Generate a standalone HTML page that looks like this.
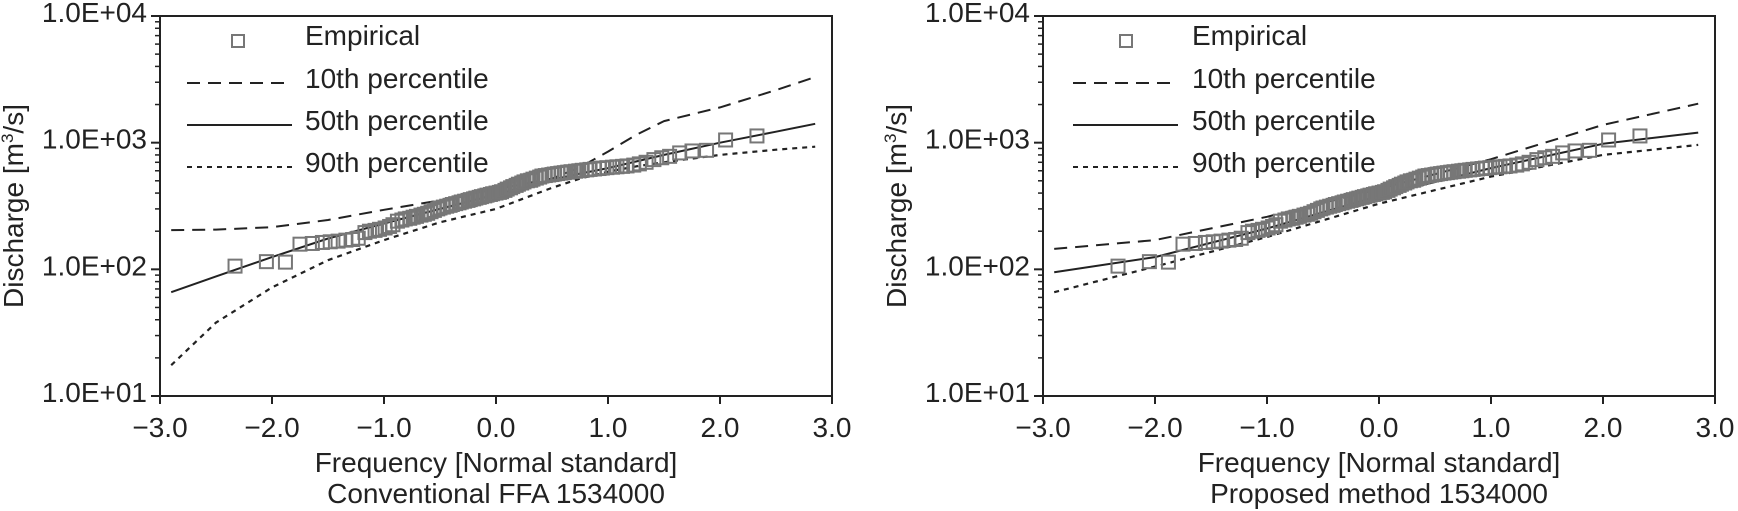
<!DOCTYPE html>
<html><head><meta charset="utf-8"><style>
html,body{margin:0;padding:0;background:#fff;}
svg{display:block;font-family:"Liberation Sans",Arial,sans-serif;}
</style></head><body>
<svg id="fig" width="1738" height="511" viewBox="0 0 1738 511" xmlns="http://www.w3.org/2000/svg"></svg>
<script>
// ---- data ----
const xTicks = [-3, -2, -1, 0, 1, 2, 3];
const xTickLabels = ["\u22123.0", "\u22122.0", "\u22121.0", "0.0", "1.0", "2.0", "3.0"];
const yDecades = [1, 2, 3, 4];
const yTickLabels = ["1.0E+01", "1.0E+02", "1.0E+03", "1.0E+04"];
const zEmp = [-2.33,-2.05,-1.88,-1.75,-1.64,-1.55,-1.48,-1.41,-1.34,-1.28,-1.23,-1.17,-1.13,-1.08,-1.04,-0.99,-0.95,-0.92,-0.88,-0.84,-0.81,-0.77,-0.74,-0.71,-0.67,-0.64,-0.61,-0.58,-0.55,-0.52,-0.50,-0.47,-0.44,-0.41,-0.39,-0.36,-0.33,-0.31,-0.28,-0.25,-0.23,-0.20,-0.18,-0.15,-0.13,-0.10,-0.08,-0.05,-0.03,0.00,0.03,0.05,0.08,0.10,0.13,0.15,0.18,0.20,0.23,0.25,0.28,0.31,0.33,0.36,0.39,0.41,0.44,0.47,0.50,0.52,0.55,0.58,0.61,0.64,0.67,0.71,0.74,0.77,0.81,0.84,0.88,0.92,0.95,0.99,1.04,1.08,1.13,1.17,1.23,1.28,1.34,1.41,1.48,1.55,1.64,1.75,1.88,2.05,2.33];
const qEmp = [106,115,114,158,160,163,165,167,170,172,176,195,200,203,207,212,218,225,240,245,250,253,258,262,268,272,277,285,292,300,305,310,315,320,325,330,335,340,345,350,355,360,365,370,375,380,385,390,395,400,405,410,420,430,440,450,460,470,480,490,500,505,515,525,535,545,550,555,560,565,570,575,580,585,590,595,600,605,610,615,620,625,630,635,640,645,650,655,665,680,700,735,760,780,830,860,870,1050,1130];
// conventional FFA percentiles
const zConv = [-2.9,-2.5,-2,-1.5,-1,-0.5,0,0.5,0.75,1,1.25,1.5,2,2.5,2.85];
const convP10 = [204,206,215,245,295,350,430,520,640,850,1150,1480,1900,2600,3300];
const convP50 = [66,88,125,175,230,300,390,510,570,630,710,800,1000,1220,1410];
const convP90 = [17.5,38,72,118,170,235,300,440,520,590,650,700,800,880,930];
// proposed method percentiles
const zProp = [-2.9,-2,-1,0,1,2,2.85];
const propP10 = [145,170,260,430,740,1380,2030];
const propP50 = [95,125,210,380,630,980,1200];
const propP90 = [66,105,180,330,540,800,960];

const NS = "http://www.w3.org/2000/svg";
const svg = document.getElementById('fig');
function el(tag, attrs, parent) {
  const e = document.createElementNS(NS, tag);
  for (const k in attrs) e.setAttribute(k, attrs[k]);
  (parent || svg).appendChild(e);
  return e;
}
const TOP = 16, BOT = 396;

function drawPanel(id, left, right, zc, p10, p50, p90, title, legLineX, legTextX, legSqX) {
  const g = el('g', {});
  
  
  const xs = z => left + (z + 3) / 6 * (right - left);
  const ys = v => BOT - (Math.log10(v) - 1) / 3 * (BOT - TOP);

  const frame = el('rect', {x: left, y: TOP, width: right - left, height: BOT - TOP, fill: 'none', stroke: '#222', 'stroke-width': 2}, g);
  
  

  xTicks.forEach((t, i) => {
    const x = xs(t);
    const tk = el('line', {x1: x, x2: x, y1: BOT, y2: BOT + 8, stroke: '#222', 'stroke-width': 2}, g);
    
    
    const tx = el('text', {x: x, y: BOT + 41, 'font-size': 28, 'text-anchor': 'middle', fill: '#222'}, g);
    tx.textContent = xTickLabels[i];
    
    
  });
  yDecades.forEach((d, i) => {
    const y = ys(Math.pow(10, d));
    const tk = el('line', {x1: left - 9, x2: left, y1: y, y2: y, stroke: '#222', 'stroke-width': 2}, g);
    
    
    const tx = el('text', {x: left - 13, y: y + 6, 'font-size': 28, 'text-anchor': 'end', fill: '#222'}, g);
    tx.textContent = yTickLabels[i];
    
    
    if (d < 4) {
      for (let m = 2; m <= 9; m++) {
        const ym = ys(m * Math.pow(10, d));
        const mt = el('line', {x1: left - 5, x2: left, y1: ym, y2: ym, stroke: '#222', 'stroke-width': 1.5}, g);
        
        
      }
    }
  });
  const cx = (left + right) / 2;
  const xt = el('text', {x: cx, y: 472, 'font-size': 28, 'text-anchor': 'middle', fill: '#222'}, g);
  xt.textContent = 'Frequency [Normal standard]';
  
  
  const st = el('text', {x: cx, y: 503, 'font-size': 28, 'text-anchor': 'middle', fill: '#222'}, g);
  st.textContent = title;
  
  
  const yl = left - 137, ymid = (TOP + BOT) / 2;
  const yt = el('text', {x: yl, y: ymid, 'font-size': 28, 'text-anchor': 'middle', fill: '#222', transform: 'rotate(-90 ' + yl + ' ' + ymid + ')'}, g);
  yt.innerHTML = 'Discharge [m<tspan dy="-10" font-size="17">3</tspan><tspan dy="10">/s]</tspan>';
  
  

  const styles = [
    {arr: p10, dash: '13 8', w: 2, name: 'p10-line'},
    {arr: p50, dash: '', w: 2, name: 'p50-line'},
    {arr: p90, dash: '5 5', w: 2.2, name: 'p90-line'}
  ];
  styles.forEach(s => {
    const d = s.arr.map((v, i) => (i ? 'L' : 'M') + xs(zc[i]).toFixed(1) + ' ' + ys(v).toFixed(1)).join(' ');
    const p = el('path', {d: d, fill: 'none', stroke: '#222', 'stroke-width': s.w, 'stroke-dasharray': s.dash, 'stroke-linejoin': 'round'}, g);
    
    
  });
  zEmp.forEach((z, i) => {
    const r = el('rect', {x: xs(z) - 6.5, y: ys(qEmp[i]) - 6.5, width: 13, height: 13, fill: 'none', stroke: '#777', 'stroke-width': 2}, g);
    
    
  });

  const baselines = [45, 88, 130, 172];
  const labels = ['Empirical', '10th percentile', '50th percentile', '90th percentile'];
  const sq = el('rect', {x: legSqX - 6, y: 35, width: 12, height: 12, fill: 'none', stroke: '#777', 'stroke-width': 2}, g);
  
  
  const dashes = ['13 8', '', '5 5'];
  [1, 2, 3].forEach(k => {
    const ly = baselines[k] - 5;
    const ln = el('line', {x1: legLineX, x2: legLineX + 105, y1: ly, y2: ly, stroke: '#222', 'stroke-width': 2, 'stroke-dasharray': dashes[k - 1]}, g);
    
    
  });
  labels.forEach((l, k) => {
    const t = el('text', {x: legTextX, y: baselines[k], 'font-size': 28, fill: '#222'}, g);
    t.textContent = l;
    
    
  });
}

drawPanel('conventional', 160, 832, zConv, convP10, convP50, convP90, 'Conventional FFA 1534000', 187, 305, 238);
drawPanel('proposed', 1043, 1715, zProp, propP10, propP50, propP90, 'Proposed method 1534000', 1073, 1192, 1126);
</script>
</body></html>
